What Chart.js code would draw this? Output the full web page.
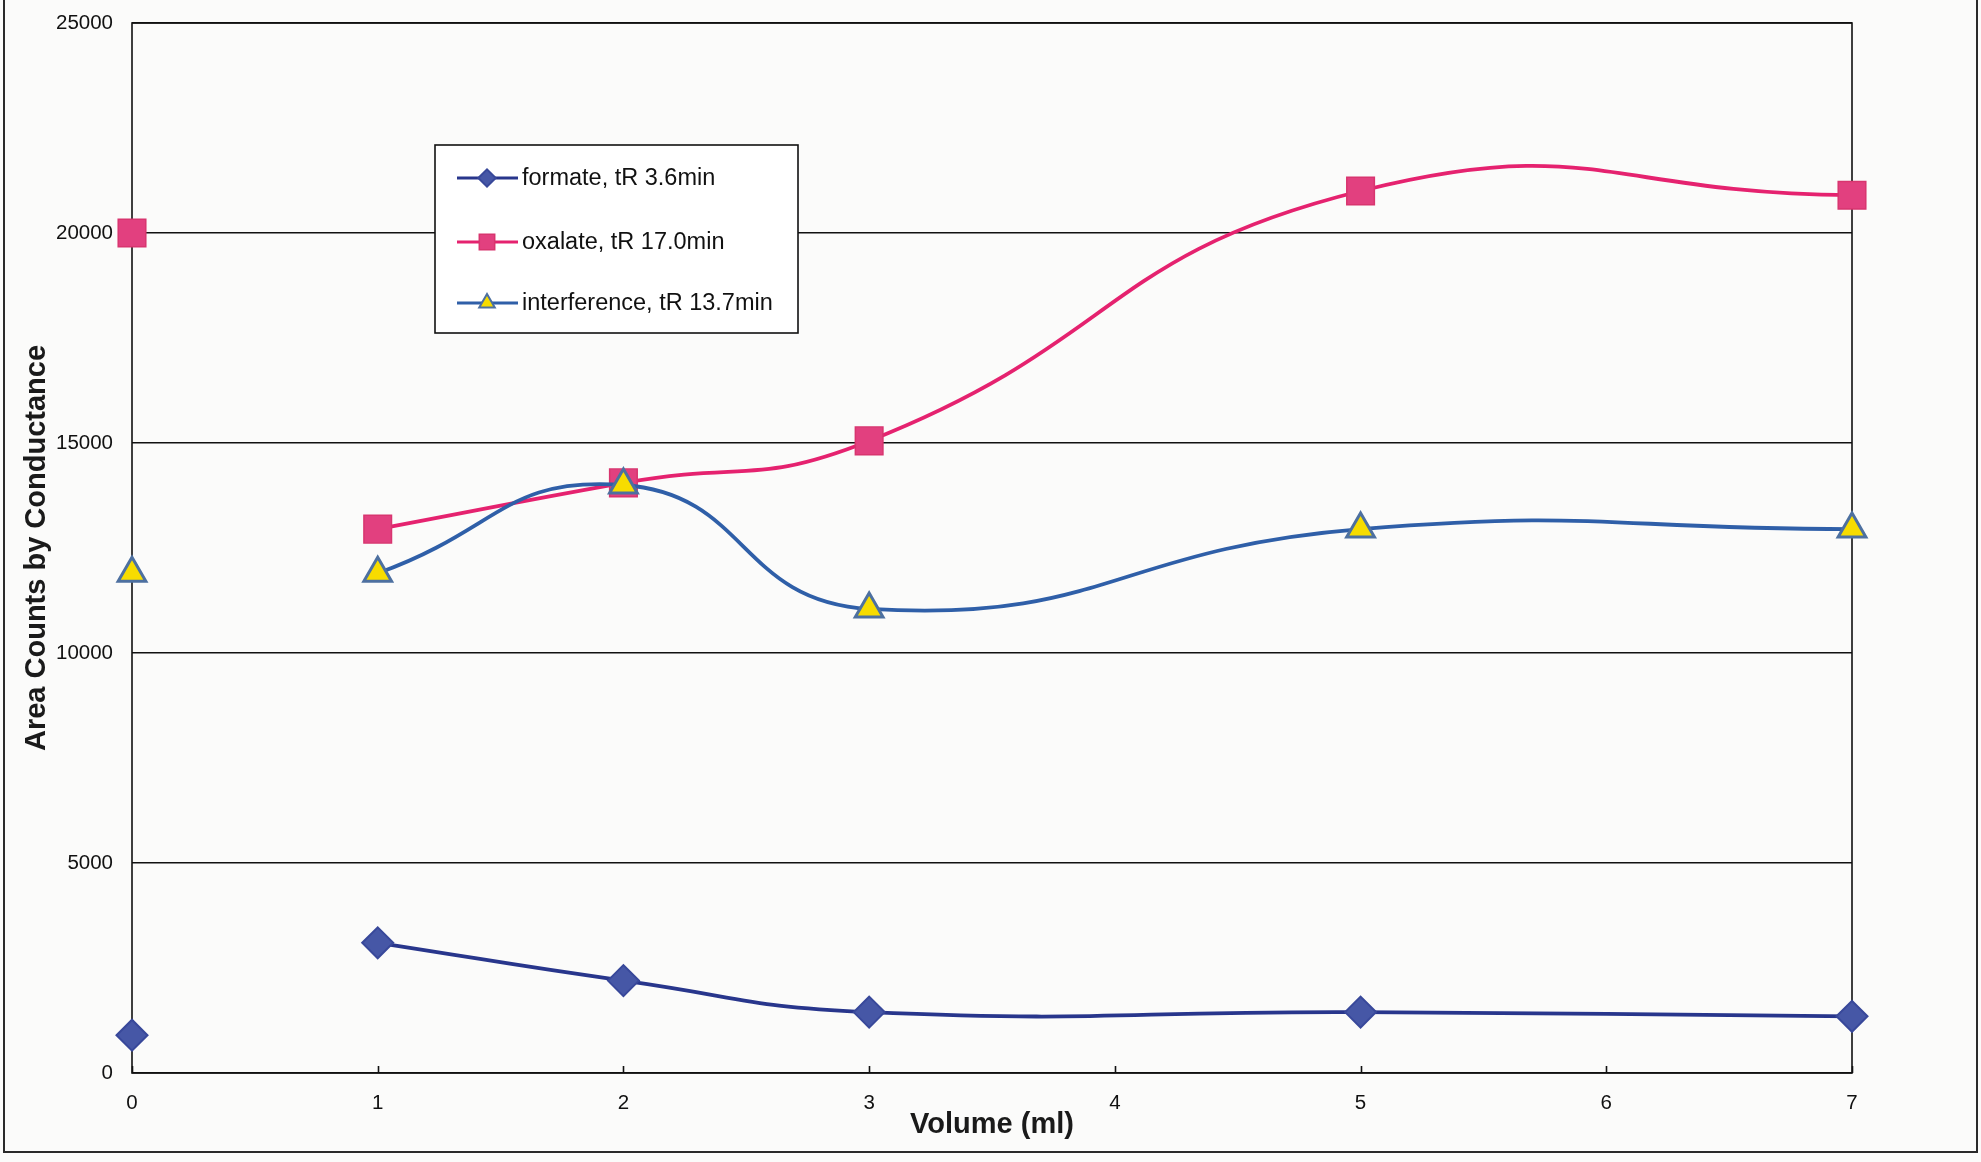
<!DOCTYPE html>
<html>
<head>
<meta charset="utf-8">
<script src="https://cdn.jsdelivr.net/npm/chart.js@4/dist/chart.umd.min.js"></script>
<style>
  html, body { margin: 0; padding: 0; background: #fbfbfa; }
  canvas { display: block; }
</style>
</head>
<body>
<canvas id="chart" width="1981" height="1162" style="width:1981px;height:1162px"></canvas>
<script>
// Volume of eluent (ml) at which each sample was measured
const volumes = [0, 1, 2, 3, 5, 7];

// Peak areas by conductance detection
const formate      = [900, 3100, 2200, 1450, 1450, 1350];
const oxalate      = [20000, 12950, 14050, 15050, 21000, 20900];
const interference = [11900, 11900, 14000, 11050, 12950, 12950];

const seriesNames = ['formate, tR 3.6min', 'oxalate, tR 17.0min', 'interference, tR 13.7min'];

// Axis ticks
const xTickValues = [0, 1, 2, 3, 4, 5, 6, 7];
const yTickValues = [0, 5000, 10000, 15000, 20000, 25000];

const xTitle = 'Volume (ml)';
const yTitle = 'Area Counts by Conductance';

// Appearance of each series
const looks = [
  { line: '#28368c', fill: '#4657a6', border: '#38489a', shape: 'rectRot',  radius: 15.5, bw: 2,   order: 2 },
  { line: '#e5226f', fill: '#e2407f', border: '#d8356f', shape: 'rect',     radius: 19.5, bw: 1.5, order: 1 },
  { line: '#2f5fa8', fill: '#f7dc00', border: '#4d70a0', shape: 'triangle', radius: 16,   bw: 3,   order: 0 }
];

const seriesValues = [formate, oxalate, interference];

// Each series: the 0 ml reading is a lone marker, the rest form a smoothed line
const datasets = [];
seriesValues.forEach((vals, s) => {
  const lk = looks[s];
  const common = {
    pointStyle: lk.shape,
    pointRadius: lk.radius,
    pointHoverRadius: lk.radius,
    pointBackgroundColor: lk.fill,
    pointBorderColor: lk.border,
    pointBorderWidth: lk.bw,
    order: lk.order,
    clip: false
  };
  datasets.push(Object.assign({
    label: seriesNames[s],
    data: volumes.slice(1).map((v, i) => ({ x: v, y: vals[i + 1] })),
    showLine: true,
    borderColor: lk.line,
    borderWidth: 3.8,
    tension: 0.5
  }, common));
  datasets.push(Object.assign({
    label: seriesNames[s] + ' (0 ml)',
    data: [{ x: volumes[0], y: vals[0] }],
    showLine: false
  }, common));
});

// Marker shapes drawn the same way Chart.js draws its point styles
function drawMarker(ctx, lk, x, y) {
  const r = lk.radius;
  ctx.save();
  ctx.fillStyle = lk.fill;
  ctx.strokeStyle = lk.border;
  ctx.lineWidth = lk.bw;
  ctx.beginPath();
  if (lk.shape === 'rect') {
    const s = Math.SQRT1_2 * r;
    ctx.rect(x - s, y - s, 2 * s, 2 * s);
  } else if (lk.shape === 'rectRot') {
    ctx.moveTo(x - r, y);
    ctx.lineTo(x, y - r);
    ctx.lineTo(x + r, y);
    ctx.lineTo(x, y + r);
    ctx.closePath();
  } else {
    let a = 0;
    ctx.moveTo(x + Math.sin(a) * r, y - Math.cos(a) * r);
    a += 2 * Math.PI / 3;
    ctx.lineTo(x + Math.sin(a) * r, y - Math.cos(a) * r);
    a += 2 * Math.PI / 3;
    ctx.lineTo(x + Math.sin(a) * r, y - Math.cos(a) * r);
    ctx.closePath();
  }
  ctx.fill();
  ctx.stroke();
  ctx.restore();
}

// Page background and the outer frame around the figure
const backdrop = {
  id: 'backdrop',
  beforeDraw(chart) {
    const ctx = chart.ctx;
    ctx.save();
    ctx.fillStyle = '#fbfbfa';
    ctx.fillRect(0, 0, chart.width, chart.height);
    ctx.strokeStyle = '#2a2a2a';
    ctx.lineWidth = 2;
    ctx.beginPath();
    ctx.moveTo(4, 0);
    ctx.lineTo(4, 1152);
    ctx.lineTo(1977, 1152);
    ctx.lineTo(1977, 0);
    ctx.stroke();
    ctx.restore();
  }
};

// Plot-area box and inward tick marks on the volume axis
const plotFrame = {
  id: 'plotFrame',
  beforeDatasetsDraw(chart) {
    const { ctx, chartArea: a, scales } = chart;
    ctx.save();
    ctx.strokeStyle = '#111';
    ctx.lineWidth = 1.6;
    ctx.strokeRect(a.left, a.top, a.right - a.left, a.bottom - a.top);
    ctx.beginPath();
    xTickValues.forEach(v => {
      const px = Math.round(scales.x.getPixelForValue(v)) + 0.5;
      ctx.moveTo(px, a.bottom);
      ctx.lineTo(px, a.bottom - 7);
    });
    ctx.stroke();
    ctx.restore();
  }
};

// Boxed legend inside the plot area
const boxLegend = {
  id: 'boxLegend',
  afterDatasetsDraw(chart) {
    const { ctx, chartArea: a } = chart;
    const left = a.left + 303, top = a.top + 122, w = 363, h = 188;
    ctx.save();
    ctx.fillStyle = '#ffffff';
    ctx.fillRect(left, top, w, h);
    ctx.strokeStyle = '#111';
    ctx.lineWidth = 1.6;
    ctx.strokeRect(left, top, w, h);
    const rows = [33, 97, 158];
    seriesNames.forEach((name, s) => {
      const lk = looks[s];
      const y = top + rows[s];
      ctx.strokeStyle = lk.line;
      ctx.lineWidth = 3;
      ctx.beginPath();
      ctx.moveTo(left + 22, y);
      ctx.lineTo(left + 83, y);
      ctx.stroke();
      drawMarker(ctx, Object.assign({}, lk, { radius: lk.radius * 0.56, bw: Math.min(lk.bw, 2) }), left + 52, y);
      ctx.fillStyle = '#111';
      ctx.font = '23.5px "Liberation Sans", Arial, sans-serif';
      ctx.textBaseline = 'middle';
      ctx.textAlign = 'left';
      ctx.fillText(name, left + 87, y + 1);
    });
    ctx.restore();
  }
};

const tickFont = { family: '"Liberation Sans", Arial, sans-serif', size: 20.5 };
const titleFont = { family: '"Liberation Sans", Arial, sans-serif', size: 29, weight: 'bold' };

new Chart(document.getElementById('chart'), {
  type: 'scatter',
  data: { datasets },
  plugins: [backdrop, plotFrame, boxLegend],
  options: {
    responsive: false,
    animation: false,
    layout: { padding: { top: 23, right: 129, left: 0, bottom: 0 } },
    plugins: { legend: { display: false }, tooltip: { enabled: false } },
    scales: {
      x: {
        type: 'linear',
        min: 0,
        max: 7,
        afterBuildTicks: scale => { scale.ticks = xTickValues.map(v => ({ value: v })); },
        afterFit: scale => { scale.height = 89; scale.paddingLeft = 0; scale.paddingRight = 0; },
        grid: { display: false, drawTicks: false },
        border: { display: false },
        ticks: { font: tickFont, color: '#111', padding: 18, maxRotation: 0, callback: v => String(v) },
        title: { display: true, text: xTitle, font: titleFont, color: '#1a1a1a', padding: { top: 0, bottom: 20 } }
      },
      y: {
        type: 'linear',
        min: 0,
        max: 25000,
        afterBuildTicks: scale => { scale.ticks = yTickValues.map(v => ({ value: v })); },
        afterFit: scale => { scale.width = 132; scale.paddingTop = 0; scale.paddingBottom = 0; },
        grid: { color: '#111', lineWidth: 1.6, drawTicks: false },
        border: { display: false },
        ticks: { font: tickFont, color: '#111', padding: 19, callback: v => String(v) },
        title: { display: true, text: yTitle, font: titleFont, color: '#1a1a1a', padding: { top: 20, bottom: 0 } }
      }
    }
  }
});
</script>
</body>
</html>
